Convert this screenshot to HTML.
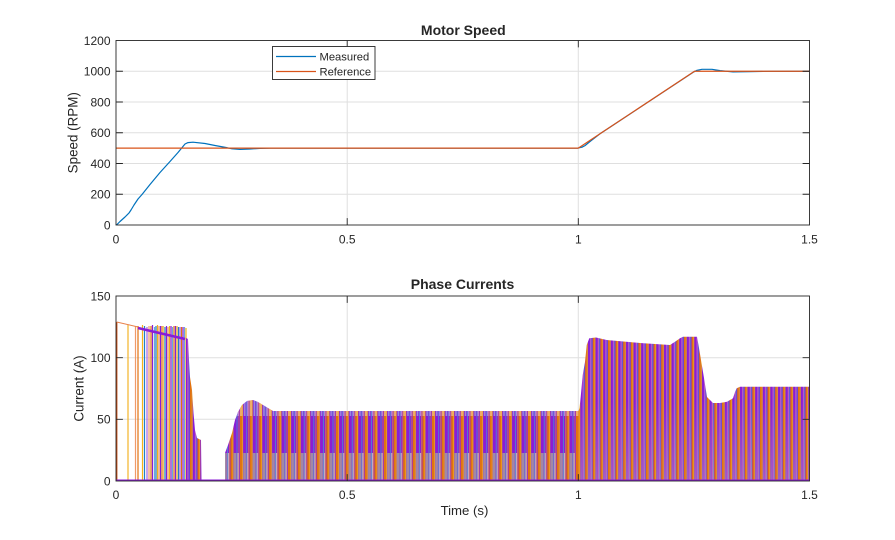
<!DOCTYPE html>
<html><head><meta charset="utf-8"><style>
html,body{margin:0;padding:0;background:#fff;}
svg{display:block;}
text{font-family:"Liberation Sans",Arial,sans-serif;fill:#262626;}
</style></head><body>
<svg width="895" height="540" viewBox="0 0 895 540" xmlns="http://www.w3.org/2000/svg">
<defs>
<clipPath id="cb"><rect x="116" y="296" width="693.5" height="185"/></clipPath>
<clipPath id="ct"><rect x="116" y="40.5" width="693.5" height="184.5"/></clipPath>
<clipPath id="cmid"><path d="M225,481 L225,453 L228,445 L232,433 L235,420 L238,412 L242,405 L247,401 L253,400 L258,402 L263,405 L268,408 L273,411 L578.5,411 L578.5,481 Z"/></clipPath>
<clipPath id="crt"><path d="M578.5,481 L578.5,411 L579.5,408 L580.7,397 L582.7,375 L585,362 L586.7,345 L589.3,338.3 L596,337.5 L606.7,340 L640,343 L670,345 L675,341.7 L680,338.3 L683,336.7 L697,336.7 L698.5,345 L701,360 L704,378 L707,397 L710,400 L713,403 L720,403 L727,401.7 L733,398.3 L735,392 L736.7,388.3 L740,386.7 L809.5,386.7 L809.5,481 Z"/></clipPath>
<pattern id="pm" patternUnits="userSpaceOnUse" x="0" y="0" width="9.6" height="200">
<rect x="0" y="0" width="9.6" height="200" fill="#8A1CD6"/>
<rect x="0" y="0" width="2" height="200" fill="#E2720F"/>
<rect x="2" y="0" width="1" height="200" fill="#F2A80F"/>
<rect x="6.2" y="0" width="0.8" height="200" fill="#4A8FCF"/>
<rect x="8.3" y="0" width="0.6" height="200" fill="#E58A3A"/>
</pattern>
<pattern id="pl" patternUnits="userSpaceOnUse" x="0" y="0" width="9.6" height="200">
<rect x="3.2" y="0" width="2.8" height="200" fill="#A7A49A"/>
<rect x="7" y="0" width="1.3" height="200" fill="#D7CDB8"/>
</pattern>
<pattern id="pt" patternUnits="userSpaceOnUse" x="0" y="0" width="9.6" height="200">
<rect x="0" y="0" width="2.5" height="200" fill="#F3C38C"/>
<rect x="4" y="0" width="1.5" height="200" fill="#9CC3E6"/>
<rect x="7" y="0" width="1.5" height="200" fill="#C8A6EA"/>
</pattern>
<pattern id="pr" patternUnits="userSpaceOnUse" x="0" y="0" width="7.6" height="200">
<rect x="0" y="0" width="7.6" height="200" fill="#8A1CD6"/>
<rect x="0" y="0" width="1.6" height="200" fill="#E2720F"/>
<rect x="1.6" y="0" width="1" height="200" fill="#F2A80F"/>
<rect x="5" y="0" width="1" height="200" fill="#C46BC2"/>
<rect x="6.4" y="0" width="0.6" height="200" fill="#3F8BCB"/>
</pattern>
<pattern id="prl" patternUnits="userSpaceOnUse" x="0" y="0" width="7.6" height="200">
<rect x="2.8" y="0" width="2" height="200" fill="#B3A2B8"/>
<rect x="6" y="0" width="1" height="200" fill="#D9C0A8"/>
</pattern>
<linearGradient id="fade" x1="0" y1="0" x2="0" y2="1">
<stop offset="0" stop-color="#fff" stop-opacity="0"/>
<stop offset="1" stop-color="#fff" stop-opacity="1"/>
</linearGradient>
<mask id="fm"><rect x="570" y="400" width="250" height="90" fill="url(#fade)"/></mask>
</defs>

<!-- ===== TOP AXES ===== -->
<g stroke="#DFDFDF" stroke-width="1" fill="none">
<line x1="347.2" y1="40.5" x2="347.2" y2="225"/>
<line x1="578.3" y1="40.5" x2="578.3" y2="225"/>
<line x1="116" y1="194.25" x2="809.5" y2="194.25"/>
<line x1="116" y1="163.5" x2="809.5" y2="163.5"/>
<line x1="116" y1="132.75" x2="809.5" y2="132.75"/>
<line x1="116" y1="102" x2="809.5" y2="102"/>
<line x1="116" y1="71.25" x2="809.5" y2="71.25"/>
</g>
<g clip-path="url(#ct)" fill="none" stroke-linejoin="round">
<polyline stroke="#0072BD" stroke-width="1.2" points="116.5,225 120,221.5 125,217 129,213 131,210 134,205 138,199 142,194.5 150,184.5 160,172.5 170,161.5 178,152.5 185,144 188,142.6 193,142.2 205,143.5 215,145.5 226,147.5 232,148.8 240,149.4 250,149 260,148.4 270,148.1 578,148.1 582,147.2 585,145.6 590,141.5 600,133.8 694,71.8 697,70.3 702,69.3 712,69.3 720,70.6 733,71.9 750,71.6 770,71.3 809.5,71.25"/>
<polyline stroke="#D95319" stroke-width="1.2" points="116,148.1 578.3,148.1 694.5,71.25 809.5,71.25"/>
</g>
<g stroke="#262626" stroke-width="0.9" fill="none">
<rect x="116" y="40.5" width="693.5" height="184.5"/>
<path d="M116,194.25h6.9M116,163.5h6.9M116,132.75h6.9M116,102h6.9M116,71.25h6.9M809.5,194.25h-6.9M809.5,163.5h-6.9M809.5,132.75h-6.9M809.5,102h-6.9M809.5,71.25h-6.9M347.2,225v-6.9M578.3,225v-6.9M347.2,40.5v6.9M578.3,40.5v6.9"/>
</g>
<g font-size="12" text-anchor="end">
<text x="110.5" y="229.3">0</text>
<text x="110.5" y="198.5">200</text>
<text x="110.5" y="167.8">400</text>
<text x="110.5" y="137">600</text>
<text x="110.5" y="106.3">800</text>
<text x="110.5" y="75.5">1000</text>
<text x="110.5" y="44.8">1200</text>
</g>
<g font-size="12" text-anchor="middle">
<text x="116" y="243.3">0</text>
<text x="347.2" y="243.3">0.5</text>
<text x="578.3" y="243.3">1</text>
<text x="809.5" y="243.3">1.5</text>
</g>
<text x="463.3" y="35" font-size="14" font-weight="bold" text-anchor="middle">Motor Speed</text>
<text transform="translate(77.5,132.75) rotate(-90)" font-size="13.4" text-anchor="middle">Speed (RPM)</text>
<!-- legend -->
<rect x="272.5" y="46.5" width="102.5" height="33" fill="#fff" stroke="#262626" stroke-width="0.9"/>
<line x1="276" y1="56.5" x2="316" y2="56.5" stroke="#0072BD" stroke-width="1.2"/>
<line x1="276" y1="71.5" x2="316" y2="71.5" stroke="#D95319" stroke-width="1.2"/>
<text x="319.5" y="60.6" font-size="11.2">Measured</text>
<text x="319.5" y="75.6" font-size="11.2">Reference</text>

<!-- ===== BOTTOM AXES ===== -->
<g stroke="#DFDFDF" stroke-width="1" fill="none">
<line x1="347.2" y1="296" x2="347.2" y2="481"/>
<line x1="578.3" y1="296" x2="578.3" y2="481"/>
<line x1="116" y1="419.3" x2="809.5" y2="419.3"/>
<line x1="116" y1="357.7" x2="809.5" y2="357.7"/>
</g>
<g clip-path="url(#cb)">
<!-- early sparse lines -->
<g fill="none" stroke-width="1.2">
<line x1="116.7" y1="481" x2="116.7" y2="322" stroke="#C4470C" stroke-width="1.4"/>
<line x1="128" y1="481" x2="128" y2="325" stroke="#F2B42A"/>
<line x1="135.5" y1="481" x2="135.5" y2="326" stroke="#F09A68"/>
<line x1="138" y1="481" x2="138" y2="326" stroke="#E2720F"/>
<line x1="142.5" y1="481" x2="142.5" y2="325" stroke="#F2B21A"/>
<line x1="144.5" y1="481" x2="144.5" y2="326" stroke="#1F7FC9"/>
<line x1="147" y1="481" x2="147" y2="327" stroke="#A866E4"/>
<line x1="149" y1="481" x2="149" y2="326" stroke="#F09A68"/>
<line x1="151" y1="481" x2="151" y2="326" stroke="#E2720F"/>
<line x1="152.5" y1="481" x2="152.5" y2="325" stroke="#8A1CD6"/>
<line x1="154.5" y1="481" x2="154.5" y2="327" stroke="#6AA8DC"/>
<line x1="156" y1="481" x2="156" y2="326" stroke="#1F7FC9"/>
<line x1="157.5" y1="481" x2="157.5" y2="325" stroke="#F2B21A"/>
<line x1="159" y1="481" x2="159" y2="326" stroke="#F09A68"/>
<line x1="160.5" y1="481" x2="160.5" y2="326" stroke="#8A1CD6"/>
<line x1="162" y1="481" x2="162" y2="326" stroke="#E2720F"/>
<line x1="163.5" y1="481" x2="163.5" y2="326" stroke="#F4C860"/>
<line x1="165" y1="481" x2="165" y2="327" stroke="#1F7FC9"/>
<line x1="166.5" y1="481" x2="166.5" y2="326" stroke="#8A1CD6"/>
<line x1="168" y1="481" x2="168" y2="327" stroke="#F09A68"/>
<line x1="169.5" y1="481" x2="169.5" y2="326" stroke="#F2B21A"/>
<line x1="171" y1="481" x2="171" y2="326" stroke="#8A1CD6"/>
<line x1="172.5" y1="481" x2="172.5" y2="327" stroke="#6AA8DC"/>
<line x1="174" y1="481" x2="174" y2="326" stroke="#E2720F"/>
<line x1="175.5" y1="481" x2="175.5" y2="326" stroke="#8A1CD6"/>
<line x1="177" y1="481" x2="177" y2="326" stroke="#F2B21A"/>
<line x1="178.5" y1="481" x2="178.5" y2="327" stroke="#1F7FC9"/>
<line x1="180" y1="481" x2="180" y2="327" stroke="#A866E4"/>
<line x1="181.5" y1="481" x2="181.5" y2="327" stroke="#E2720F"/>
<line x1="183" y1="481" x2="183" y2="327" stroke="#8A1CD6"/>
<line x1="184.5" y1="481" x2="184.5" y2="327" stroke="#6AA8DC"/>
<line x1="186" y1="481" x2="186" y2="328" stroke="#F2B21A"/>
</g>
<polyline points="116.7,322 138,327" fill="none" stroke="#E8804A" stroke-width="1"/>
<polyline points="138,328 185,339" fill="none" stroke="#8A1CD6" stroke-width="2.6"/>
<!-- descent -->
<path d="M186,481 L186,338 L188,339 L189,360 L190,377 L192,390 L193.5,413 L195,430 L197,438 L201,440 L201.5,481 Z" fill="url(#pr)"/>
<!-- middle region -->
<g clip-path="url(#cmid)">
<rect x="225" y="396" width="354" height="86" fill="url(#pm)"/>
<rect x="225" y="396" width="354" height="20" fill="url(#pt)" opacity="0.7"/>
<rect x="225" y="453" width="354" height="28" fill="url(#pl)" opacity="0.8"/>
</g>
<!-- right region -->
<g clip-path="url(#crt)">
<rect x="578" y="330" width="232" height="152" fill="url(#pr)"/>
<rect x="578" y="400" width="232" height="81" fill="url(#prl)" opacity="0.6" mask="url(#fm)"/>
</g>
<!-- zero line -->
<line x1="116" y1="480.3" x2="809.5" y2="480.3" stroke="#8A1CD6" stroke-width="1.6"/>
</g>
<g stroke="#262626" stroke-width="0.9" fill="none">
<rect x="116" y="296" width="693.5" height="185"/>
<path d="M116,419.3h6.9M116,357.7h6.9M809.5,419.3h-6.9M809.5,357.7h-6.9M347.2,481v-6.9M578.3,481v-6.9M347.2,296v6.9M578.3,296v6.9"/>
</g>
<g font-size="12" text-anchor="end">
<text x="110.5" y="485.3">0</text>
<text x="110.5" y="423.6">50</text>
<text x="110.5" y="362">100</text>
<text x="110.5" y="300.3">150</text>
</g>
<g font-size="12" text-anchor="middle">
<text x="116" y="499">0</text>
<text x="347.2" y="499">0.5</text>
<text x="578.3" y="499">1</text>
<text x="809.5" y="499">1.5</text>
</g>
<text x="462.5" y="289" font-size="14" font-weight="bold" text-anchor="middle">Phase Currents</text>
<text transform="translate(83.7,388.5) rotate(-90)" font-size="13.4" text-anchor="middle">Current (A)</text>
<text x="464.5" y="515" font-size="13.2" text-anchor="middle">Time (s)</text>
</svg>
</body></html>
